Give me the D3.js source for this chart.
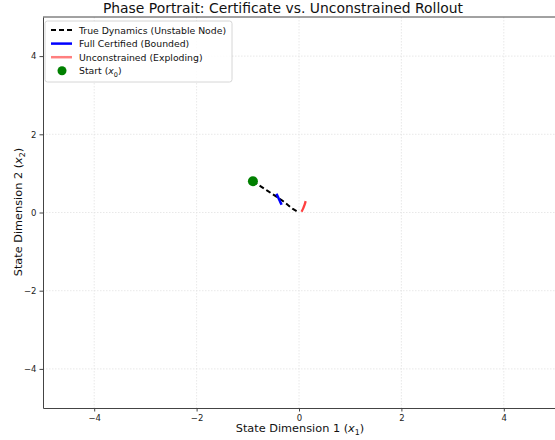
<!DOCTYPE html>
<html>
<head>
<meta charset="utf-8">
<script src="https://cdn.jsdelivr.net/npm/d3@7"></script>
<style>
  body { margin: 0; background: #fff; }
  svg { font-family: "DejaVu Sans", sans-serif; }
</style>
</head>
<body>
<div id="chart"></div>
<script>
const xTicks = [-4, -2, 0, 2, 4];
const yTicks = [-4, -2, 0, 2, 4];

// trajectories
const trueX = [-0.9, -0.62, -0.32, -0.12, 0.0];
const trueY = [0.8, 0.56, 0.3, 0.09, 0.0];
const certX = [-0.44, -0.39, -0.34];
const certY = [0.48, 0.34, 0.2];
const freeX = [0.05, 0.08, 0.11, 0.13];
const freeY = [0.02, 0.1, 0.2, 0.29];
const startPt = [-0.9, 0.8];

const width = 555, height = 440;
const margin = { left: 43, top: 17, right: 0, bottom: 32 };
const innerWidth = width - margin.left - margin.right;
const innerHeight = height - margin.top - margin.bottom;

const svg = d3.select("#chart").append("svg")
  .attr("width", width)
  .attr("height", height);

const inner = svg.append("g")
  .attr("transform", `translate(${margin.left},${margin.top})`);

const xScale = d3.scaleLinear().domain([-5, 5]).range([0, innerWidth]);
const yScale = d3.scaleLinear().domain([-5, 5]).range([innerHeight, 0]);

// Grid
inner.append("g").selectAll("line").data(xTicks).enter().append("line")
  .attr("x1", d => xScale(d)).attr("x2", d => xScale(d))
  .attr("y1", 0).attr("y2", innerHeight)
  .attr("stroke", "#e2e2e2").attr("stroke-width", 0.8).attr("stroke-dasharray", "1.5,1.5");
inner.append("g").selectAll("line").data(yTicks).enter().append("line")
  .attr("x1", 0).attr("x2", innerWidth)
  .attr("y1", d => yScale(d)).attr("y2", d => yScale(d))
  .attr("stroke", "#e2e2e2").attr("stroke-width", 0.8).attr("stroke-dasharray", "1.5,1.5");

const zip = (xs, ys) => xs.map((x, i) => [x, ys[i]]);
const line = d3.line().x(d => xScale(d[0])).y(d => yScale(d[1]));

inner.append("path")
  .datum(zip(trueX, trueY))
  .attr("d", line)
  .attr("fill", "none")
  .attr("stroke", "#000")
  .attr("stroke-width", 2)
  .attr("stroke-dasharray", "5,3");

inner.append("path")
  .datum(zip(certX, certY))
  .attr("d", line)
  .attr("fill", "none")
  .attr("stroke", "#0000ff")
  .attr("stroke-width", 2.5);

inner.append("path")
  .datum(zip(freeX, freeY))
  .attr("d", d3.line().x(d => xScale(d[0])).y(d => yScale(d[1])).curve(d3.curveCatmullRom))
  .attr("fill", "none")
  .attr("stroke", "#ff0000")
  .attr("stroke-opacity", 0.75)
  .attr("stroke-width", 2.3);

inner.append("circle")
  .attr("cx", xScale(startPt[0]))
  .attr("cy", yScale(startPt[1]))
  .attr("r", 5)
  .attr("fill", "#008000");

// Axes
const fmt = d => d < 0 ? "\u2212" + Math.abs(d) : d;
const xAxis = inner.append("g")
  .attr("transform", `translate(0,${innerHeight})`)
  .call(d3.axisBottom(xScale).tickValues(xTicks).tickSize(3.5).tickSizeOuter(0).tickPadding(3).tickFormat(fmt));
const yAxis = inner.append("g")
  .call(d3.axisLeft(yScale).tickValues(yTicks).tickSize(3.5).tickSizeOuter(0).tickPadding(3).tickFormat(fmt));
[xAxis, yAxis].forEach(a => {
  a.select(".domain").attr("stroke", "#444").attr("stroke-width", 1);
  a.selectAll(".tick line").attr("stroke", "#444");
  a.selectAll(".tick text").attr("font-size", "8.5px").attr("fill", "#222")
    .attr("font-family", "DejaVu Sans");
});

// top spine
inner.append("line")
  .attr("x1", 0).attr("x2", innerWidth).attr("y1", 0).attr("y2", 0)
  .attr("stroke", "#444").attr("stroke-width", 1);

// label like "State Dimension 1 (x1)" built from separate text pieces, centred
function mathLabel(g, prefix, sub, size, anchor) {
  const t1 = g.append("text").attr("font-size", size + "px").attr("fill", "#111").text(prefix);
  const tx = g.append("text").attr("font-size", size + "px").attr("fill", "#111")
    .attr("font-style", "italic").text("x");
  const ts = g.append("text").attr("font-size", (size * 0.7) + "px").attr("fill", "#111").text(sub);
  const tc = g.append("text").attr("font-size", size + "px").attr("fill", "#111").text(")");
  const w1 = t1.node().getComputedTextLength();
  const wx = tx.node().getComputedTextLength();
  const ws = ts.node().getComputedTextLength();
  const wc = tc.node().getComputedTextLength();
  const total = w1 + wx + ws + wc;
  const x0 = anchor === "middle" ? -total / 2 : 0;
  t1.attr("x", x0);
  tx.attr("x", x0 + w1);
  ts.attr("x", x0 + w1 + wx).attr("y", size * 0.25);
  tc.attr("x", x0 + w1 + wx + ws);
}

mathLabel(svg.append("g").attr("transform", "translate(300,432)"),
  "State Dimension 1 (", "1", 11.3, "middle");
mathLabel(svg.append("g").attr("transform", "translate(22,212) rotate(-90)"),
  "State Dimension 2 (", "2", 11.3, "middle");

svg.append("text")
  .attr("x", 283).attr("y", 13)
  .attr("text-anchor", "middle").attr("font-size", "13.9px").attr("fill", "#111")
  .text("Phase Portrait: Certificate vs. Unconstrained Rollout");

// Legend
const legend = svg.append("g").attr("transform", "translate(45,21)");
legend.append("rect")
  .attr("width", 187).attr("height", 61).attr("rx", 2.5)
  .attr("fill", "#fff").attr("fill-opacity", 0.85)
  .attr("stroke", "#ccc").attr("stroke-width", 0.8);

const legendItems = [
  { label: "True Dynamics (Unstable Node)", type: "dash" },
  { label: "Full Certified (Bounded)", type: "blue" },
  { label: "Unconstrained (Exploding)", type: "red" },
  { label: "Start (", type: "dot" }
];
legendItems.forEach((it, i) => {
  const y = 9 + i * 13.6;
  const g = legend.append("g").attr("transform", `translate(0,${y})`);
  if (it.type === "dot") {
    g.append("circle").attr("cx", 17).attr("cy", 0).attr("r", 4.5).attr("fill", "#008000");
    mathLabel(g.append("g").attr("transform", "translate(34,3.5)"), it.label, "0", 9.3, "start");
    return;
  }
  const l = g.append("line").attr("x1", 6).attr("x2", 27).attr("y1", 0).attr("y2", 0)
    .attr("stroke-width", 2);
  if (it.type === "dash") l.attr("stroke", "#000").attr("stroke-dasharray", "5,3");
  if (it.type === "blue") l.attr("stroke", "#0000ff").attr("stroke-width", 2.5);
  if (it.type === "red") l.attr("stroke", "#ff0000").attr("stroke-opacity", 0.5).attr("stroke-width", 2.5);
  g.append("text").attr("x", 34).attr("y", 3.5)
    .attr("font-size", "9.3px").attr("fill", "#111")
    .text(it.label);
});
</script>
</body>
</html>
